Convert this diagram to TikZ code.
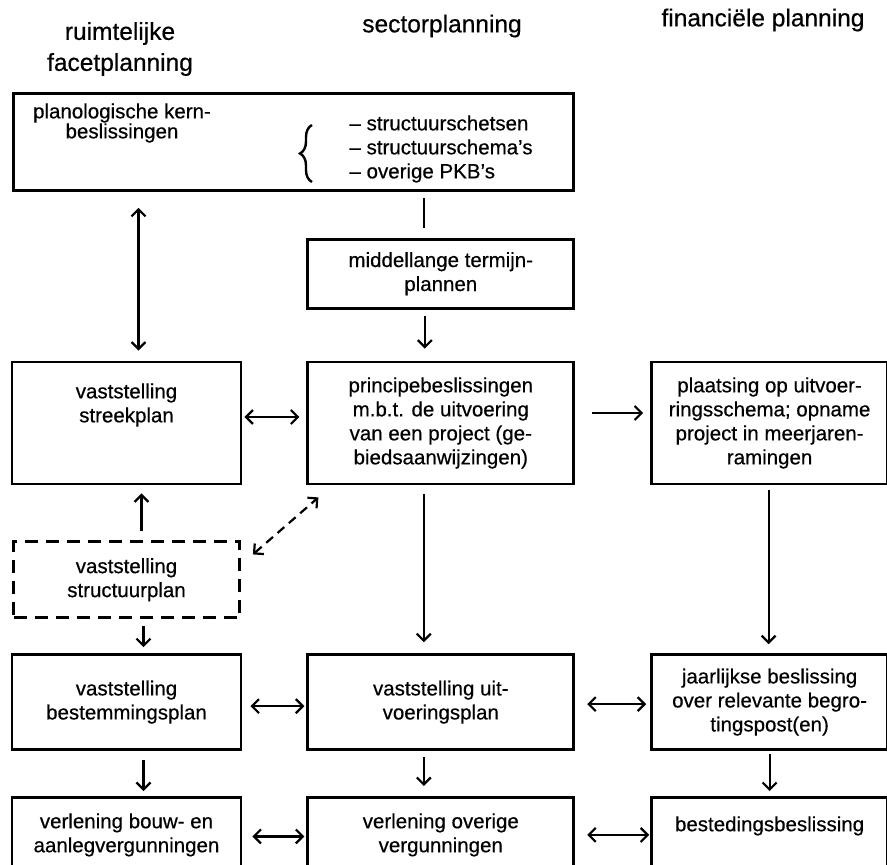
\documentclass[tikz,border=0pt]{standalone}
\usepackage{fontspec}
\setmainfont{Liberation Sans}[UprightFeatures={FakeBold=0.5}]
\usetikzlibrary{positioning, arrows.meta, decorations.pathreplacing}

\begin{document}
\begin{tikzpicture}[x=1pt, y=-1pt,
	box/.style={draw, line width=2.8pt, inner sep=0pt, align=center,
		font=\fontsize{20.5}{24}\selectfont},
	txt/.style={align=center, font=\fontsize{20.5}{24}\selectfont},
	head/.style={align=center, font=\fontsize{24.5}{31}\selectfont},
	link/.style={line width=2.2pt, -{Straight Barb[length=7pt,width=14pt]}},
	both/.style={link, {Straight Barb[length=7pt,width=14pt]}-{Straight Barb[length=7pt,width=14pt]}}]
	\useasboundingbox (0,0) rectangle (887,865);
	
	\node[head] (hr) at (120,49) {ruimtelijke\\facetplanning};
	\node[head] (hs) at (442,26) {sectorplanning};
	\node[head] (hf) at (763,20) {financiële planning};
	
	\node[box, minimum width=229pt, minimum height=122pt] (r3) at (126.5,423) {};
	\node[box, right=64pt of r3, minimum width=266pt, minimum height=122pt] (s3) {principebeslissingen\\m.b.t. de uitvoering\\van een project (ge-\\biedsaanwijzingen)};
	\node[box, right=75pt of s3, minimum width=236pt, minimum height=122pt] (f3) {plaatsing op uitvoer-\\ringsschema; opname\\project in meerjaren-\\ramingen};
	\node[txt] (r3t) at ([yshift=18pt]r3.center) {vaststelling\\streekplan};
	
	\node[box, above=51pt of s3, minimum width=266pt, minimum height=69pt] (s2) {middellange termijn-\\plannen};
	\node[box, above left=46pt and 0pt of s2.north east, minimum width=560pt, minimum height=97pt] (pkb) {};
	\node[txt, font=\fontsize{20.5}{20}\selectfont] (pkbt) at (122,123) {planologische kern-\\beslissingen};
	\node[txt, anchor=west, align=left] (pkbl) at (346,149) {– structuurschetsen\\– structuurschema’s\\– overige PKB’s};
	\draw[line width=2.4pt, decorate, decoration={brace, amplitude=12pt}] (312,182) -- (312,125);
	
	\node[box, dashed, dash pattern=on 13pt off 8pt, below=55pt of r3, minimum width=226pt, minimum height=76pt] (r4) {vaststelling\\structuurplan};
	
	\node[box, below=34pt of r4, minimum width=229pt, minimum height=95pt] (r5) {vaststelling\\bestemmingsplan};
	\node[box, right=64pt of r5, minimum width=266pt, minimum height=95pt] (s5) {vaststelling uit-\\voeringsplan};
	\node[box, right=75pt of s5, minimum width=236pt, minimum height=95pt] (f5) {jaarlijkse beslissing\\over relevante begro-\\tingspost(en)};
	
	\node[box, below=45pt of r5, minimum width=229pt, minimum height=75pt] (r6) {verlening bouw- en\\aanlegvergunningen};
	\node[box, right=64pt of r6, minimum width=266pt, minimum height=75pt] (s6) {verlening overige\\vergunningen};
	\node[box, right=75pt of s6, minimum width=236pt, minimum height=75pt] (f6) {};
	\node[txt] (f6t) at ([yshift=9pt]f6.center) {bestedingsbeslissing};
	
	\draw[both, shorten <=16pt, shorten >=10pt] ([xshift=12pt]r3.north |- pkb.south) -- ([xshift=12pt]r3.north);
	\draw[line width=2.2pt, shorten <=6pt, shorten >=10pt] ([xshift=-17pt]s2.north |- pkb.south) -- ([xshift=-17pt]s2.north);
	\draw[link, shorten <=6pt, shorten >=12pt] ([xshift=-16pt]s2.south) -- ([xshift=-16pt]s3.north);
	\draw[both, shorten <=2pt, shorten >=7pt] ([yshift=6pt]r3.east) -- ([yshift=6pt]s3.west);
	\draw[link, shorten <=17pt, shorten >=7pt] ([yshift=10pt]s3.east) -- ([yshift=10pt]f3.west);
	
	\draw[link, shorten <=9pt, shorten >=8pt] ([xshift=15pt]r4.north) -- ([xshift=15pt]r4.north |- r3.south);
	\draw[both, dash pattern=on 9pt off 6pt] ([shift={(12pt,-14pt)}]r4.north east) -- ([shift={(12pt,-12pt)}]s3.south west);
	\draw[link, shorten <=7pt, shorten >=6pt] ([xshift=17pt]r4.south) -- ([xshift=17pt]r4.south |- r5.north);
	\draw[link, shorten <=9pt, shorten >=11pt] ([xshift=-17pt]s3.south) -- ([xshift=-17pt]s5.north);
	\draw[link, shorten <=5pt, shorten >=9pt] ([xshift=-1pt]f3.south) -- ([xshift=-1pt]f5.north);
	
	\draw[both, shorten <=8pt, shorten >=2pt] ([yshift=-4pt]r5.east) -- ([yshift=-4pt]s5.west);
	\draw[both, shorten <=12pt, shorten >=4pt] ([yshift=-2pt]s5.east) -- ([yshift=-2pt]f5.west);
	\draw[link, shorten <=9pt, shorten >=5pt] ([xshift=17pt]r5.south) -- ([xshift=17pt]r6.north);
	\draw[link, shorten <=6pt, shorten >=10pt] ([xshift=-17pt]s5.south) -- ([xshift=-17pt]s6.north);
	\draw[link, shorten <=3pt, shorten >=5pt] (f5) -- (f6);
	
	\draw[both, shorten <=10pt, shorten >=2pt] ([yshift=-1.5pt]r6.east) -- ([yshift=-1.5pt]s6.west);
	\draw[both, shorten <=12pt, shorten >=1pt] (s6.east) -- (f6.west);
\end{tikzpicture}
\end{document}
